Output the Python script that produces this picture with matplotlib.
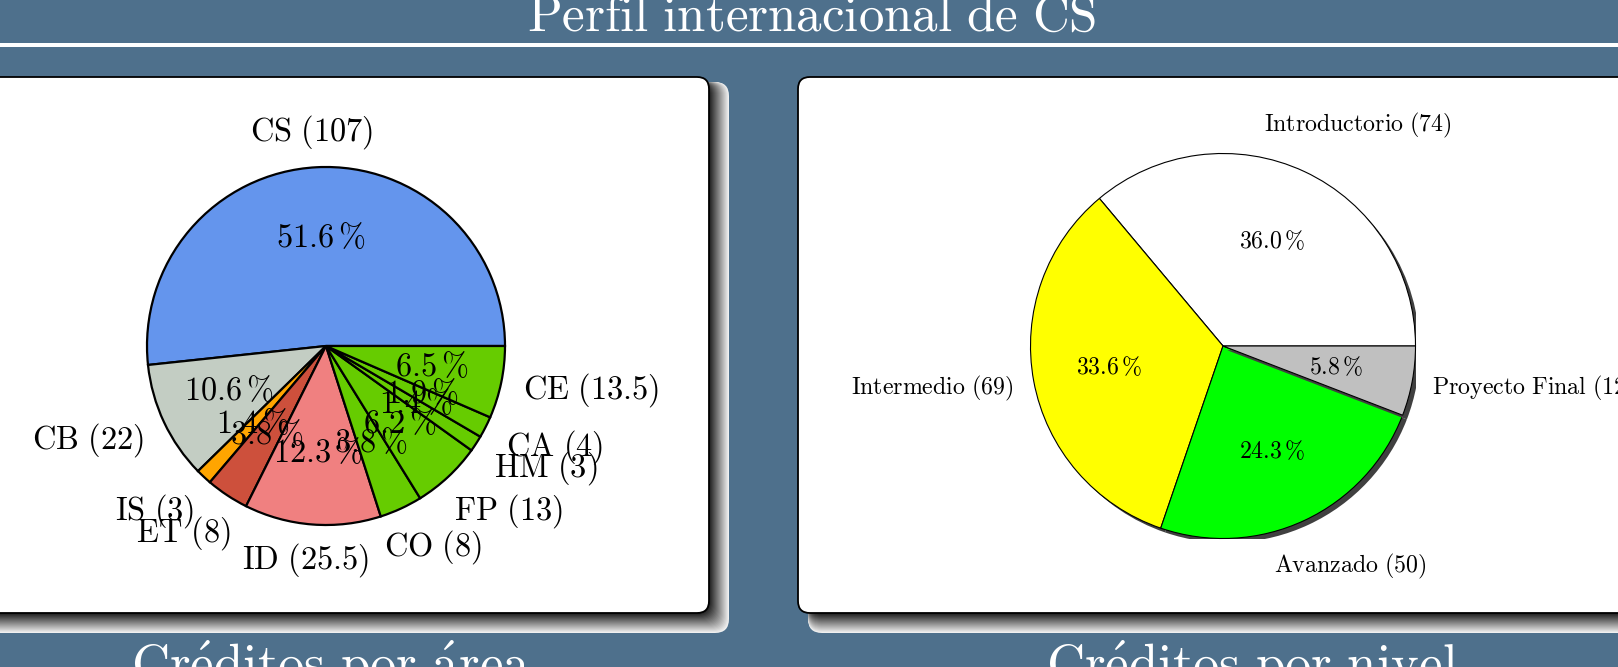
import math
import matplotlib
matplotlib.use('Agg')
import matplotlib.pyplot as plt
from matplotlib.patches import FancyBboxPatch, Wedge, Rectangle
import matplotlib.transforms as mtransforms

plt.rcParams['mathtext.fontset'] = 'cm'

# ---------------- data ----------------
slide_title = "Perfil internacional de CS"
panel_titles = ["Créditos por área", "Créditos por nivel"]

area_labels = ["CS", "CB", "IS", "ET", "ID", "CO", "FP", "HM", "CA", "CE"]
area_credits = [107, 22, 3, 8, 25.5, 8, 13, 3, 4, 13.5]
area_colors = ["#6495ED", "#C3CDC3", "#FFA500", "#CD503C", "#F08080",
               "#66CC00", "#66CC00", "#66CC00", "#66CC00", "#66CC00"]

level_labels = ["Introductorio", "Intermedio", "Avanzado", "Proyecto Final"]
level_credits = [74, 69, 50, 12]
level_colors = ["#FFFFFF", "#FFFF00", "#00FF00", "#C0C0C0"]

# ---------------- layout ----------------
W, H = 1618, 667
DPI = 100
BG = "#4E708C"

fig = plt.figure(figsize=(W / DPI, H / DPI), dpi=DPI, facecolor=BG)
bg = fig.add_axes([0, 0, 1, 1])
bg.set_xlim(0, W)
bg.set_ylim(H, 0)
bg.axis('off')


def mt(s):
    s = (s.replace('%', r'\%').replace('é', r'\acute{e}')
          .replace('á', r'\acute{a}').replace(' ', r'\ '))
    return r'$\mathrm{' + s + '}$'


def pct_fmt(p):
    v = math.floor(p * 10 + 1e-6) / 10
    return r'$\mathrm{%.1f}\,\%%$' % v


# title + separator
bg.text(812, 31, mt(slide_title), ha='center', va='baseline', color='white', fontsize=36.7)
bg.add_patch(Rectangle((0, 43), W, 4, facecolor='white', edgecolor='none'))


def panel(x0, x1, y0, y1):
    n = 20
    for k in range(n, 0, -1):
        g = 0.12 + 0.82 * (k - 1) / (n - 1)
        bg.add_patch(FancyBboxPatch((x0 + 10, y0 + 5), (x1 + k) - (x0 + 10), (y1 + k) - (y0 + 5),
                                    boxstyle="round,pad=0,rounding_size=14",
                                    facecolor=(g, g, g), edgecolor='none'))
    bg.add_patch(FancyBboxPatch((x0, y0), x1 - x0, y1 - y0,
                                boxstyle="round,pad=0,rounding_size=12",
                                facecolor='white', edgecolor='black', linewidth=1.3))


panel(-30, 709, 77, 613)
panel(798, 1660, 77, 613)

bg.text(331, 682, mt(panel_titles[0]), ha='center', va='baseline', color='white', fontsize=38)
bg.text(1252, 682, mt(panel_titles[1]), ha='center', va='baseline', color='white', fontsize=38)

renderer = fig.canvas.get_renderer()


def draw_pie(cx, cy, R, values, labels, colors, fs, lw, d, E, ky, padx, pady, shadow):
    ax = fig.add_axes([(cx - R) / W, 1 - (cy + R) / H, 2 * R / W, 2 * R / H])
    wedges, _, autotexts = ax.pie(values, colors=colors, startangle=0, counterclock=True,
                                  autopct=pct_fmt, pctdistance=0.6, radius=1,
                                  wedgeprops=dict(edgecolor='black', linewidth=lw),
                                  textprops=dict(fontsize=fs, color='black'))
    ax.set_xlim(-1, 1)
    ax.set_ylim(-1, 1)
    ax.axis('off')
    for i, w in enumerate(wedges):
        w.set_zorder(2 + 2 * i)
        if shadow:
            o = 0.022
            ax.add_patch(Wedge((w.center[0] + o, w.center[1] - o), w.r, w.theta1, w.theta2,
                               facecolor='#404040', edgecolor='none', zorder=1.5 + 2 * i))
    for t in autotexts:
        t.set_zorder(100)
    for w, lab, v in zip(wedges, labels, values):
        mid = math.radians((w.theta1 + w.theta2) / 2)
        c, s = math.cos(mid), math.sin(mid)
        q = math.sin(2 * mid) ** 2
        t = ax.text(d * c, d * s, mt(f"{lab} ({v:g})"), ha='center', va='center',
                    fontsize=fs, zorder=100)
        bb = t.get_window_extent(renderer)
        hw, hh = bb.width / 2, bb.height / 2
        ox = c * (E * q + hw + padx)
        oy = s * (E * q + ky * hh + pady)
        off = mtransforms.ScaledTranslation(ox / DPI, oy / DPI, fig.dpi_scale_trans)
        t.set_transform(ax.transData + off)
    return ax


draw_pie(326, 346, 179, area_credits, area_labels, area_colors,
         23.3, 1.6, 1.13, 12, 0.47, -2, 3, False)
draw_pie(1223, 346, 192.5, level_credits, level_labels, level_colors,
         17.2, 0.8, 1.12, 22, 1.0, -4, 0, True)

fig.savefig("out.png", dpi=DPI, facecolor=BG)
